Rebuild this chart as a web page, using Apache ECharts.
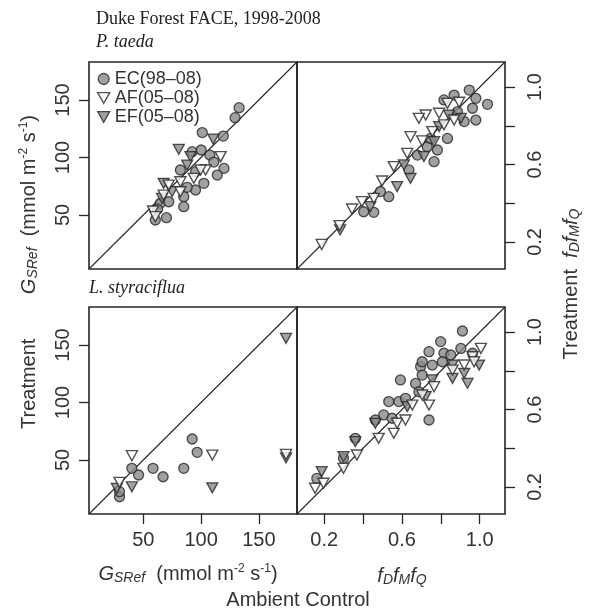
<!DOCTYPE html>
<html><head><meta charset="utf-8">
<script src="https://cdn.jsdelivr.net/npm/echarts@6/dist/echarts.min.js"></script>
<style>html,body{margin:0;padding:0;background:#fff}#c{width:591px;height:612px}</style>
</head><body><div id="c"></div>
<script>
// ---- data ----
const seriesNames = ['EC(98–08)', 'AF(05–08)', 'EF(05–08)'];
const gsTicks = [50, 100, 150];
const fTicks = [0.2, 0.4, 0.6, 0.8, 1.0];
const fLabels = [0.2, 0.6, 1.0];
const gsRange = [3, 183];
const fRange = [0.06, 1.13];

// P. taeda, G_SRef (ambient, treatment)
const taedaGsEC = [[132.9,143.3],[129.4,134.6],[101.0,121.6],[119.2,118.6],[92.3,105.0],[100.1,106.5],[107.6,102.1],[119.8,90.5],[114.0,84.7],[82.1,89.1],[95.2,87.6],[102.4,77.5],[95.2,71.7],[85.0,65.9],[64.7,60.1],[72.0,61.5],[85.0,57.2],[70.0,47.6],[60.4,45.6],[62.4,55.2],[111.0,96.0],[88.0,74.0]];
const taedaGsAF = [[116.9,100.7],[103.9,89.1],[93.7,81.8],[82.1,78.9],[72.0,76.0],[67.6,67.3],[82.1,70.2],[58.4,53.4],[60.4,48.5],[99.5,89.1]];
const taedaGsEF = [[110.5,116.0],[80.7,107.1],[90.8,100.7],[87.9,93.4],[67.6,77.5],[74.9,70.2],[66.2,64.4]];
// P. taeda, fDfMfQ
const taedaFEC = [[0.455,0.353],[0.403,0.356],[0.532,0.434],[0.636,0.572],[0.765,0.615],[0.782,0.675],[0.730,0.692],[0.834,0.735],[0.920,0.822],[0.885,0.873],[0.963,0.891],[1.040,0.911],[0.980,0.830],[0.868,0.959],[0.946,0.985],[0.980,0.942],[0.816,0.934],[0.747,0.735],[0.679,0.649],[0.489,0.460]];
const taedaFAF = [[0.187,0.187],[0.279,0.284],[0.343,0.370],[0.394,0.408],[0.455,0.425],[0.498,0.515],[0.558,0.589],[0.627,0.658],[0.644,0.744],[0.704,0.722],[0.722,0.856],[0.756,0.770],[0.791,0.865],[0.834,0.916],[0.894,0.922],[0.868,0.830],[0.816,0.805],[0.687,0.839]];
const taedaFEF = [[0.282,0.262],[0.437,0.382],[0.575,0.486],[0.644,0.529],[0.713,0.641],[0.765,0.718],[0.791,0.796],[0.903,0.839],[0.842,0.856],[0.610,0.598]];
// L. styraciflua, G_SRef
const styGsEC = [[92.3,68.2],[96.6,56.6],[40.1,42.7],[45.9,36.9],[58.4,42.7],[67.1,35.4],[85.0,42.7],[29.4,18.0],[29.4,22.4]];
const styGsAF = [[40.1,53.7],[109.7,54.2],[29.4,30.5],[173.5,54.8]];
const styGsEF = [[40.1,26.7],[109.7,25.8],[173.5,155.7],[173.5,51.9],[27.1,25.3]];
// L. styraciflua, fDfMfQ
const styFEC = [[0.911,1.006],[0.799,0.951],[0.739,0.899],[0.816,0.891],[0.903,0.916],[0.808,0.847],[0.696,0.822],[0.756,0.830],[0.592,0.753],[0.670,0.735],[0.704,0.778],[0.687,0.692],[0.532,0.641],[0.584,0.641],[0.618,0.658],[0.506,0.572],[0.463,0.546],[0.549,0.555],[0.739,0.546],[0.360,0.451],[0.299,0.348],[0.162,0.244],[0.963,0.891],[0.851,0.882],[0.704,0.847]];
const styFAF = [[0.153,0.193],[0.196,0.219],[0.299,0.296],[0.368,0.365],[0.480,0.451],[0.558,0.477],[0.575,0.529],[0.618,0.546],[0.653,0.623],[0.739,0.623],[0.704,0.675],[0.765,0.718],[0.860,0.804],[0.920,0.830],[0.963,0.873],[1.006,0.916],[0.971,0.847]];
const styFEF = [[0.187,0.279],[0.299,0.356],[0.360,0.434],[0.463,0.529],[0.627,0.615],[0.722,0.667],[0.756,0.753],[0.860,0.761],[0.920,0.787],[0.937,0.735],[0.997,0.830],[0.860,0.830]];

// ---- styling ----
const SANS = '"Liberation Sans", Arial, Helvetica, sans-serif';
const SERIF = '"Liberation Serif", "Times New Roman", serif';
const INK = '#262626';
const GRAY = '#8a8a8a';
const TRI = 'path://M0,0L20,0L10,18Z';
const markStyle = {
  'EC(98–08)': {symbol: 'circle', symbolSize: 10, itemStyle: {color: GRAY, borderColor: INK, borderWidth: 1.3}},
  'AF(05–08)': {symbol: TRI, symbolSize: [11, 10], itemStyle: {color: '#ffffff', borderColor: INK, borderWidth: 1.4}},
  'EF(05–08)': {symbol: TRI, symbolSize: [11, 10], itemStyle: {color: GRAY, borderColor: INK, borderWidth: 1.3}}
};
const panels = [
  {ec: taedaGsEC, af: taedaGsAF, ef: taedaGsEF, range: gsRange},
  {ec: taedaFEC, af: taedaFAF, ef: taedaFEF, range: fRange},
  {ec: styGsEC, af: styGsAF, ef: styGsEF, range: gsRange},
  {ec: styFEC, af: styFAF, ef: styFEF, range: fRange}
];
const gridPos = [[89, 62], [297, 62], [89, 307], [297, 307]];
const grids = gridPos.map(p => ({left: p[0], top: p[1], width: 208, height: 207, show: true,
  borderColor: INK, borderWidth: 1.6, backgroundColor: 'transparent'}));

function axis(gridIndex, range, ticks, labels, position, showIt, fmt) {
  const vertical = (position === 'left' || position === 'right');
  return {
    type: 'value', gridIndex, min: range[0], max: range[1], position,
    splitLine: {show: false}, axisLine: {show: false},
    axisTick: {show: showIt, inside: false, length: 10, lineStyle: {color: INK, width: 1.3}, customValues: ticks},
    axisLabel: {show: showIt, customValues: labels, color: '#333', fontFamily: SANS, fontSize: 20,
      margin: position === 'right' ? 20 : 16, rotate: vertical ? 90 : 0, formatter: fmt}
  };
}
const fmtF = v => Number(v).toFixed(1);
const fmtG = v => String(v);
const xAxes = [
  axis(0, gsRange, gsTicks, gsTicks, 'bottom', false, fmtG),
  axis(1, fRange, fTicks, fLabels, 'bottom', false, fmtF),
  axis(2, gsRange, gsTicks, gsTicks, 'bottom', true, fmtG),
  axis(3, fRange, fTicks, fLabels, 'bottom', true, fmtF)
];
const yAxes = [
  axis(0, gsRange, gsTicks, gsTicks, 'left', true, fmtG),
  axis(1, fRange, fTicks, fLabels, 'right', true, fmtF),
  axis(2, gsRange, gsTicks, gsTicks, 'left', true, fmtG),
  axis(3, fRange, fTicks, fLabels, 'right', true, fmtF)
];

const series = [];
panels.forEach((p, i) => {
  series.push({type: 'line', xAxisIndex: i, yAxisIndex: i, silent: true, symbol: 'none',
    data: [[p.range[0], p.range[0]], [p.range[1], p.range[1]]],
    lineStyle: {color: INK, width: 1.1}, z: 1});
  [['EC(98–08)', p.ec], ['EF(05–08)', p.ef], ['AF(05–08)', p.af]].forEach(([name, d], k) => {
    series.push(Object.assign({type: 'scatter', name, xAxisIndex: i, yAxisIndex: i, data: d, z: 2 + k}, markStyle[name]));
  });
});

const rich = {
  n: {fontFamily: SANS, fontSize: 20, color: '#333'},
  g: {fontFamily: SANS, fontSize: 20, fontStyle: 'italic', color: '#333'},
  s: {fontFamily: SANS, fontSize: 14, fontStyle: 'italic', color: '#333', verticalAlign: 'bottom', padding: [8, 0, 0, 0]},
  p: {fontFamily: SANS, fontSize: 12, color: '#333', verticalAlign: 'top', padding: [0, 0, 8, 0]}
};
function rtext(x, y, text, rot) {
  return {type: 'text', x, y, rotation: rot || 0, silent: true,
    style: {text, rich, align: 'center', verticalAlign: 'middle', textAlign: 'center', textVerticalAlign: 'middle',
      fontFamily: SANS, fontSize: 20, fill: '#333'}};
}
const graphic = [
  {type: 'text', left: 96, top: 10, style: {text: 'Duke Forest FACE, 1998-2008', font: '18px ' + SERIF, fill: '#222'}},
  {type: 'text', left: 96, top: 33, style: {text: 'P. taeda', font: 'italic 18px ' + SERIF, fill: '#222'}},
  {type: 'text', left: 89, top: 279, style: {text: 'L. styraciflua', font: 'italic 18px ' + SERIF, fill: '#222'}},
  rtext(29, 272, '{n|Treatment}        {g|G}{s|SRef}{n|  (mmol m}{p|-2}{n| s}{p|-1}{n|)}', Math.PI / 2),
  rtext(571, 284, '{n|Treatment}  {g|f}{s|D}{g|f}{s|M}{g|f}{s|Q}', Math.PI / 2),
  rtext(188, 574, '{g|G}{s|SRef}{n|  (mmol m}{p|-2}{n| s}{p|-1}{n|)}', 0),
  rtext(402, 576, '{g|f}{s|D}{g|f}{s|M}{g|f}{s|Q}', 0),
  rtext(298, 600, '{n|Ambient Control}', 0)
];

const chart = echarts.init(document.getElementById('c'), null, {renderer: 'canvas'});
chart.setOption({
  animation: false,
  backgroundColor: '#fff',
  grid: grids, xAxis: xAxes, yAxis: yAxes, series, graphic,
  legend: {
    show: true, orient: 'vertical', left: 92, top: 65, itemGap: 1, itemWidth: 12, itemHeight: 11,
    selectedMode: false,
    textStyle: {fontFamily: SANS, fontSize: 18, color: '#333'},
    data: seriesNames.map(n => ({name: n, icon: n.startsWith('EC') ? 'circle' : TRI,
      itemStyle: markStyle[n].itemStyle}))
  }
});
</script></body></html>
